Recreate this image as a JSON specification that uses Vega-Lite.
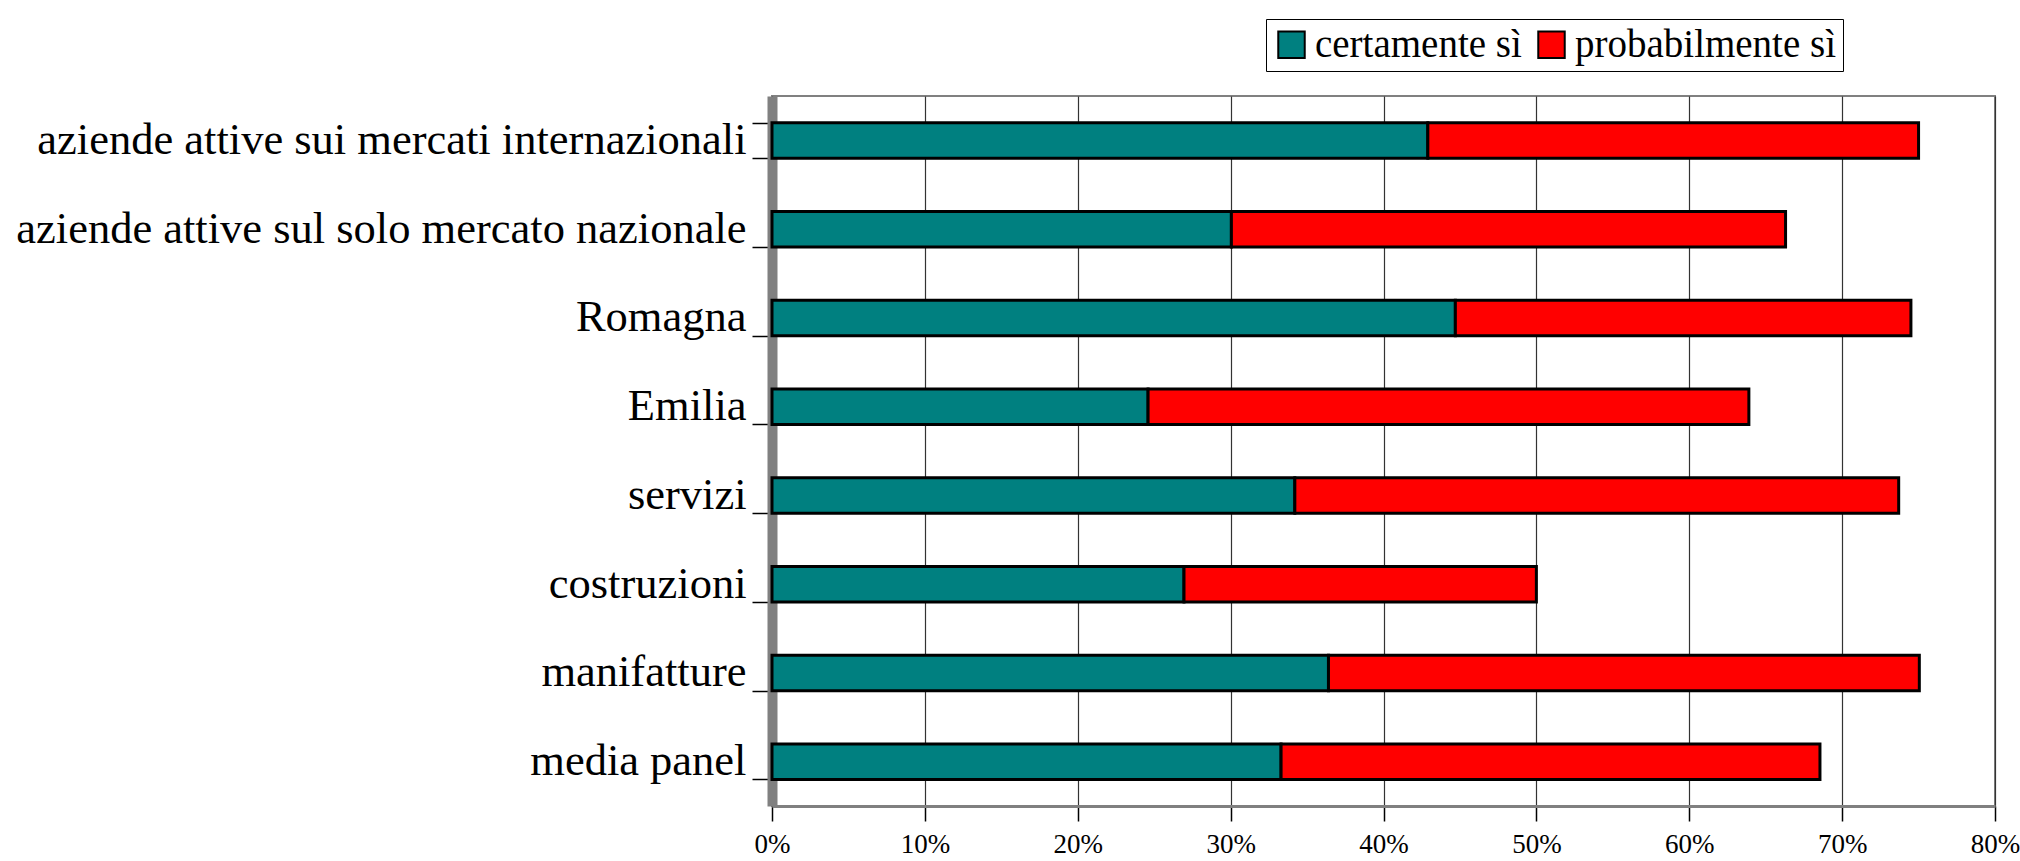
{
  "$schema": "https://vega.github.io/schema/vega-lite/v6.json",
  "autosize": {"type": "none"},
  "width": 1223,
  "height": 710,
  "padding": {"left": 772, "top": 96, "right": 25, "bottom": 55},
  "background": "white",
  "config": {"view": {"stroke": "#808080", "strokeWidth": 2}, "font": "Liberation Serif"},
  "data": {
    "values": [
      {"categoria": "aziende attive sui mercati internazionali", "risposta": "certamente sì", "valore": 0.429},
      {"categoria": "aziende attive sui mercati internazionali", "risposta": "probabilmente sì", "valore": 0.321},
      {"categoria": "aziende attive sul solo mercato nazionale", "risposta": "certamente sì", "valore": 0.3005},
      {"categoria": "aziende attive sul solo mercato nazionale", "risposta": "probabilmente sì", "valore": 0.3625},
      {"categoria": "Romagna", "risposta": "certamente sì", "valore": 0.447},
      {"categoria": "Romagna", "risposta": "probabilmente sì", "valore": 0.298},
      {"categoria": "Emilia", "risposta": "certamente sì", "valore": 0.246},
      {"categoria": "Emilia", "risposta": "probabilmente sì", "valore": 0.393},
      {"categoria": "servizi", "risposta": "certamente sì", "valore": 0.342},
      {"categoria": "servizi", "risposta": "probabilmente sì", "valore": 0.395},
      {"categoria": "costruzioni", "risposta": "certamente sì", "valore": 0.2695},
      {"categoria": "costruzioni", "risposta": "probabilmente sì", "valore": 0.2305},
      {"categoria": "manifatture", "risposta": "certamente sì", "valore": 0.364},
      {"categoria": "manifatture", "risposta": "probabilmente sì", "valore": 0.3865},
      {"categoria": "media panel", "risposta": "certamente sì", "valore": 0.333},
      {"categoria": "media panel", "risposta": "probabilmente sì", "valore": 0.3525}
    ]
  },
  "mark": {"type": "bar", "stroke": "black", "strokeWidth": 3},
  "encoding": {
    "y": {
      "field": "categoria",
      "type": "nominal",
      "sort": null,
      "title": null,
      "scale": {"paddingInner": 0.6, "paddingOuter": 0.3},
      "axis": {
        "tickBand": "extent",
        "labelFontSize": 44.5,
        "labelFont": "Liberation Serif",
        "labelColor": "black",
        "labelLimit": 900,
        "tickSize": 20,
        "tickColor": "black",
        "tickWidth": 1.5,
        "domainColor": "#808080",
        "domainWidth": 10,
        "labelPadding": 6
      }
    },
    "x": {
      "field": "valore",
      "type": "quantitative",
      "stack": "zero",
      "scale": {"domain": [0, 0.8], "nice": false},
      "axis": {
        "format": ".0%",
        "values": [0, 0.1, 0.2, 0.3, 0.4, 0.5, 0.6, 0.7, 0.8],
        "title": null,
        "labelFontSize": 27,
        "labelFont": "Liberation Serif",
        "labelColor": "black",
        "labelFlush": false,
        "labelOverlap": false,
        "tickSize": 15,
        "tickColor": "black",
        "tickWidth": 1.5,
        "domainColor": "#808080",
        "domainWidth": 3,
        "grid": true,
        "gridColor": "#333333",
        "gridWidth": 1.2,
        "labelPadding": 10
      }
    },
    "color": {
      "field": "risposta",
      "type": "nominal",
      "scale": {"domain": ["certamente sì", "probabilmente sì"], "range": ["#008080", "#FF0000"]},
      "legend": {
        "orient": "none",
        "legendX": 494,
        "legendY": -77,
        "direction": "horizontal",
        "title": null,
        "strokeColor": "black",
        "fillColor": "white",
        "padding": 6,
        "labelFontSize": 39,
        "labelFont": "Liberation Serif",
        "labelColor": "black",
        "labelLimit": 0,
        "symbolType": "square",
        "symbolSize": 700,
        "symbolStrokeColor": "black",
        "symbolStrokeWidth": 2,
        "symbolOpacity": 1,
        "columnPadding": 10,
        "labelOffset": 4
      }
    }
  }
}
